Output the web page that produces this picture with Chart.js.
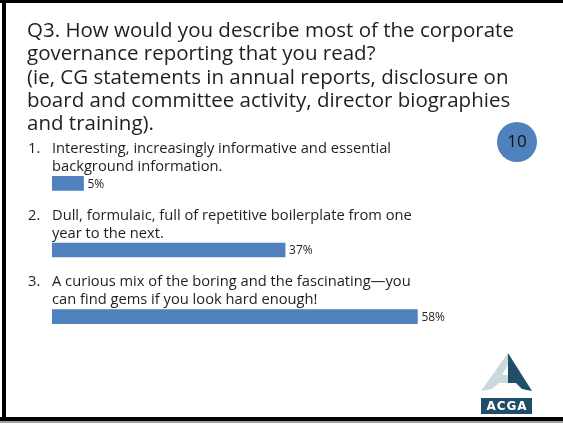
<!DOCTYPE html>
<html>
<head>
<meta charset="utf-8">
<title>Q3 corporate governance reporting</title>
<script src="https://cdn.jsdelivr.net/npm/chart.js@4/dist/chart.umd.min.js"></script>
<style>
  html, body { margin: 0; padding: 0; background: #fff; }
  #slide { display: block; }
</style>
</head>
<body>
<canvas id="slide" width="563" height="424"></canvas>
<script>
// ---- slide content ----
const titleLines = [
    'Q3. How would you describe most of the corporate',
    'governance reporting that you read?',
    '(ie, CG statements in annual reports, disclosure on',
    'board and committee activity, director biographies',
    'and training).'
];
const itemNumbers = ['1.', '2.', '3.'];
const itemLines = [
    ['Interesting, increasingly informative and essential', 'background information.'],
    ['Dull, formulaic, full of repetitive boilerplate from one', 'year to the next.'],
    ['A curious mix of the boring and the fascinating\u2014you', 'can find gems if you look hard enough!']
];
const shares = [5, 37, 58];
const slideNumber = '10';

const FONT = '"Open Sans", "DejaVu Sans", sans-serif';
const BLUE = '#4F81BD';
const TEXT = '#1f1f1f';

// ---- frame, title, page badge, logo ----
const slideDecor = {
    id: 'slideDecor',
    beforeDraw(chart) {
        const c = chart.ctx;
        c.save();
        c.fillStyle = '#fff';
        c.fillRect(0, 0, chart.width, chart.height);

        // frame
        c.fillStyle = '#000';
        c.fillRect(0, 0, 563, 3);
        c.fillRect(2, 0, 4, 420);
        c.fillRect(0, 417, 563, 4);
        c.fillStyle = '#a0a0a0';
        c.fillRect(0, 421, 563, 2);

        // title
        c.fillStyle = TEXT;
        c.font = '20.5px ' + FONT;
        c.textBaseline = 'alphabetic';
        c.textAlign = 'left';
        titleLines.forEach((line, i) => c.fillText(line, 27, 37 + i * 23.3));

        // page badge
        c.fillStyle = BLUE;
        c.beginPath();
        c.arc(517, 142, 20, 0, Math.PI * 2);
        c.fill();
        c.fillStyle = '#111';
        c.font = '17px ' + FONT;
        c.textAlign = 'center';
        c.textBaseline = 'middle';
        c.fillText(slideNumber, 517, 142);

        drawLogo(c);
        c.restore();
    },
    afterDatasetsDraw(chart) {
        const c = chart.ctx;
        const yScale = chart.scales.y;
        const bars = chart.getDatasetMeta(0).data;
        c.save();
        c.fillStyle = TEXT;
        c.textAlign = 'left';
        c.textBaseline = 'alphabetic';
        itemLines.forEach((lines, i) => {
            const yc = yScale.getPixelForValue(i);
            c.font = '14.7px ' + FONT;
            c.fillText(itemNumbers[i], 28, yc - 30.5);
            lines.forEach((line, j) => c.fillText(line, 52, yc - 30.5 + j * 18.3));
            // value next to the bar end
            c.font = '12px ' + FONT;
            c.textBaseline = 'middle';
            c.fillText(shares[i] + '%', bars[i].x + 4, yc + 1);
            c.textBaseline = 'alphabetic';
        });
        c.restore();
    }
};

function drawLogo(c) {
    // left (light) half of the "A"
    c.fillStyle = '#c9d9de';
    c.beginPath();
    c.moveTo(508, 353);
    c.lineTo(481, 391);
    c.lineTo(492, 389);
    c.lineTo(499, 383);
    c.lineTo(508, 383);
    c.closePath();
    c.fill();
    // right (dark) half
    c.fillStyle = '#1f4e6b';
    c.beginPath();
    c.moveTo(508, 353);
    c.lineTo(532, 391);
    c.lineTo(522, 389);
    c.lineTo(516, 383);
    c.lineTo(508, 383);
    c.lineTo(508, 395);
    c.closePath();
    c.fill();
    // counter of the "A"
    c.fillStyle = '#fff';
    c.beginPath();
    c.moveTo(508, 365);
    c.lineTo(502, 375);
    c.lineTo(508, 375);
    c.closePath();
    c.fill();
    c.fillStyle = '#2b4a63';
    c.beginPath();
    c.moveTo(508, 365);
    c.lineTo(514, 375);
    c.lineTo(508, 375);
    c.closePath();
    c.fill();
    // name plate
    c.fillStyle = '#1f4e6b';
    c.fillRect(481, 398, 51, 16);
    c.fillStyle = '#fff';
    c.font = 'bold 12px "DejaVu Sans", sans-serif';
    c.letterSpacing = '1px';
    c.textAlign = 'center';
    c.textBaseline = 'middle';
    c.fillText('ACGA', 507, 406.5);
    c.letterSpacing = '0px';
}

new Chart(document.getElementById('slide'), {
    type: 'bar',
    data: {
        labels: itemLines.map(l => l.join(' ')),
        datasets: [{
            data: shares,
            backgroundColor: BLUE,
            borderWidth: 0,
            barThickness: 14
        }]
    },
    options: {
        indexAxis: 'y',
        responsive: false,
        animation: false,
        devicePixelRatio: 1,
        layout: { padding: { left: 52, right: 70, top: 150, bottom: 74 } },
        scales: {
            x: { min: 0, max: 70, display: false },
            y: { display: false }
        },
        plugins: {
            legend: { display: false },
            tooltip: { enabled: false }
        }
    },
    plugins: [slideDecor]
});
</script>
</body>
</html>
